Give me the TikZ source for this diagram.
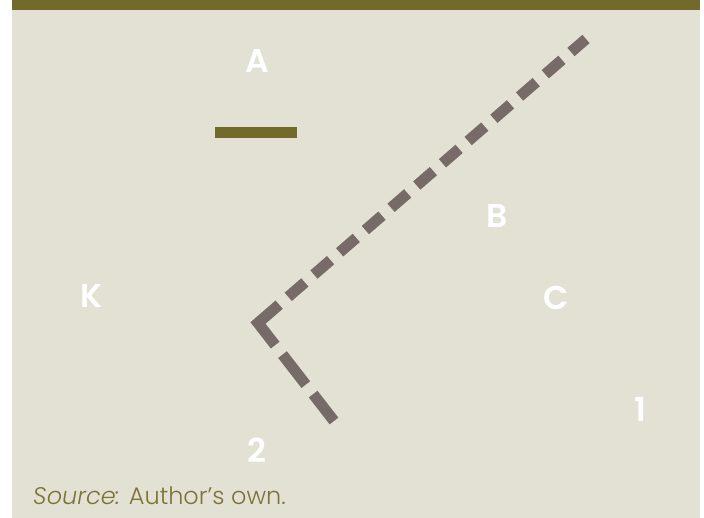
\documentclass[tikz,border=0pt]{standalone}
\usepackage{fontspec}
\setmainfont{Poppins}
\newfontfamily\labfont{Poppins SemiBold}
\newfontfamily\srcfont{Poppins Light}[ItalicFont=Poppins Light Italic]
\usetikzlibrary{calc}
\definecolor{bg}{HTML}{E3E0D4}
\definecolor{olive}{HTML}{716A2B}
\definecolor{srccol}{HTML}{7B7436}
\definecolor{dashcol}{HTML}{776B68}
\tikzset{
  lab/.style={text=white, font=\labfont\fontsize{33}{33}\selectfont, inner sep=0pt, anchor=center},
  dashbase/.style={draw=dashcol, line width=11pt, line join=miter},
  longdash/.style={dashbase, dash pattern=on 22pt off 12pt},
  shortdash/.style={dashbase, dash pattern=on 38pt off 12pt}
}
\begin{document}
\begin{tikzpicture}[x=1pt,y=-1pt]
\useasboundingbox (0,0) rectangle (704,518);
\fill[white] (0,0) rectangle (704,518);
\fill[bg] (12,0) rectangle (700,518);
\fill[olive] (12,0) rectangle (700,10);
\fill[olive] (215,127) rectangle (297,138);
\coordinate (p1) at (586,39);
\coordinate (p2) at (258,323);
\coordinate (p3) at (334,421);
% corner dash
\coordinate (c1) at ($(p2)!28pt!(p1)$);
\coordinate (c2) at ($(p2)!28pt!(p3)$);
\coordinate (l1) at ($(p2)!40pt!(p1)$);
\coordinate (s1) at ($(p2)!40pt!(p3)$);
\draw[dashbase] (c1) -- (p2) -- (c2);
\draw[longdash] (l1) -- (p1);
\draw[shortdash] (s1) -- (p3);
\node[lab] (A) at (257,61) {A};
\node[lab] (B) at (497,216) {B};
\node[lab] (C) at (556,298) {C};
\node[lab] (K) at (91,296) {K};
\node[lab] (one) at (640,409) {1};
\node[lab] (two) at (257,450) {2};
\node[anchor=base west, inner sep=0pt, text=srccol, font=\srcfont\fontsize{24}{24}\selectfont] (src) at (33,504) {\textit{Source:} Author’s own.};
\end{tikzpicture}
\end{document}
